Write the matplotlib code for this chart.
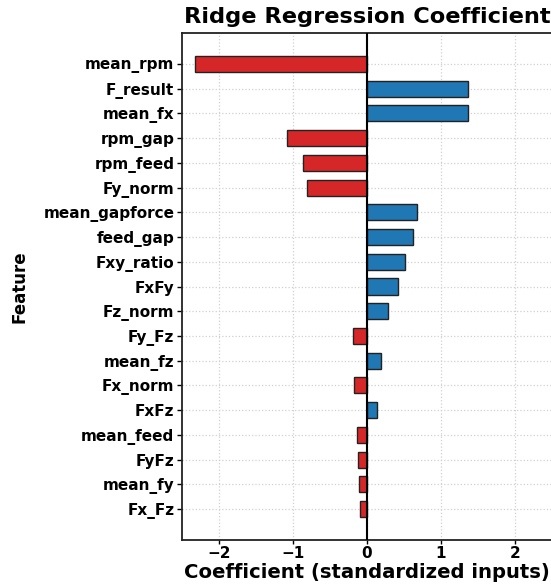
import matplotlib
matplotlib.use("Agg")
import matplotlib.pyplot as plt
import numpy as np

features = ["mean_rpm", "F_result", "mean_fx", "rpm_gap", "rpm_feed", "Fy_norm",
            "mean_gapforce", "feed_gap", "Fxy_ratio", "FxFy", "Fz_norm", "Fy_Fz",
            "mean_fz", "Fx_norm", "FxFz", "mean_feed", "FyFz", "mean_fy", "Fx_Fz"]
coefficients = [-2.32, 1.365, 1.36, -1.085, -0.87, -0.805,
                0.675, 0.625, 0.52, 0.42, 0.29, -0.195,
                0.19, -0.17, 0.14, -0.14, -0.12, -0.11, -0.10]
x_ticks = [-2, -1, 0, 1, 2]

plt.rcParams["font.family"] = ["DejaVu Sans"]
plt.rcParams["font.weight"] = "bold"

fig = plt.figure(figsize=(5.51, 5.84), dpi=100)
ax = fig.add_axes([182 / 551, 1 - 540 / 584, 370 / 551, (540 - 33) / 584])

ypos = np.arange(len(features))
colors = ["#1f77b4" if c > 0 else "#d62728" for c in coefficients]
ax.barh(ypos, coefficients, height=0.65, color=colors,
        edgecolor="#222222", linewidth=1.0, zorder=3)
ax.axvline(0, color="black", linewidth=1.5, zorder=4)

ax.set_yticks(ypos)
ax.set_yticklabels(features, fontsize=11, fontweight="bold")
ax.set_ylim(len(features) - 1 + 1.25, -1.25)
ax.set_xlim(-2.5, 2.5)
ax.set_xticks(x_ticks)
ax.set_xticklabels([f"{t}" if t >= 0 else f"\u2212{abs(t)}" for t in x_ticks],
                   fontsize=11, fontweight="bold")

ax.grid(True, linestyle=":", color="#d0d0d0", linewidth=0.9, zorder=0)
ax.set_axisbelow(True)
for s in ax.spines.values():
    s.set_linewidth(1.3)
    s.set_color("#222222")
ax.tick_params(axis="y", length=3.5, width=1.0, pad=2)
ax.tick_params(axis="x", length=3.0, width=1.0, pad=1)

ax.set_title("Ridge Regression Coefficient", fontsize=16.2, fontweight="bold", pad=7)
ax.set_xlabel("Coefficient (standardized inputs)", fontsize=14.1, fontweight="bold")
ax.xaxis.set_label_coords(0.5, -0.045)
ax.set_ylabel("Feature", fontsize=12, fontweight="bold")
ax.yaxis.set_label_coords(-0.414, 0.5)

fig.savefig("out.png", dpi=100)
